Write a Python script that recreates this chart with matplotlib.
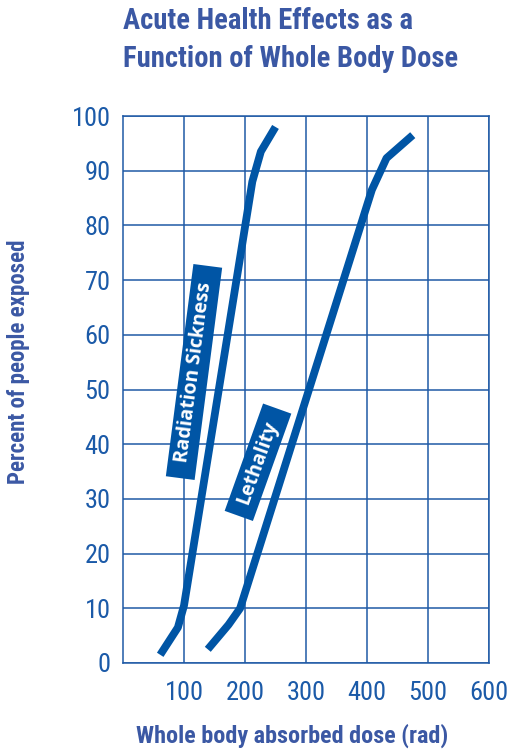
import matplotlib
matplotlib.use("Agg")
import matplotlib.pyplot as plt
from matplotlib import font_manager
from matplotlib.font_manager import FontProperties
from matplotlib.patches import Rectangle
from matplotlib.transforms import Affine2D, ScaledTranslation

# ---- data ----
sick_dose = [61, 90, 100, 212, 226, 250]
sick_pct = [1.5, 6.5, 10.5, 88, 93.5, 98]
leth_dose = [139, 173, 192, 408, 432, 475]
leth_pct = [2.5, 7, 10, 86.5, 92.3, 96.5]
x_ticks = [100, 200, 300, 400, 500, 600]
y_ticks = [0, 10, 20, 30, 40, 50, 60, 70, 80, 90, 100]
title_lines = ["Acute Health Effects as a", "Function of Whole Body Dose"]
x_label = "Whole body absorbed dose (rad)"
y_label = "Percent of people exposed"
sick_label = "Radiation Sickness"
leth_label = "Lethality"

names = {f.name for f in font_manager.fontManager.ttflist}
cands = ["Liberation Sans Narrow", "Roboto Condensed", "Open Sans Condensed", "Roboto"]
narrow = [c for c in cands if c in names][:1] + ["DejaVu Sans"]


def bold_file(families):
    for fam in families:
        for f in font_manager.fontManager.ttflist:
            w = f.weight if isinstance(f.weight, int) else 400
            fn = f.fname.lower()
            if (f.name == fam and f.style == "normal" and 650 <= w <= 750
                    and "italic" not in fn and "oblique" not in fn and "condensed" not in fn
                    and "variable" not in fn and "[" not in fn):
                return f.fname
    return None


box_font_file = bold_file(["Open Sans", "Noto Sans", "Lato", "DejaVu Sans"])

LINE = "#0055a5"
GRID = "#1f5aa6"
TXT = "#3b58a4"

fig = plt.figure(figsize=(5.14, 7.49), dpi=100)
ax = fig.add_axes([123 / 514, 86 / 749, 366 / 514, 547 / 749])
ax.set_xlim(0, 600)
ax.set_ylim(0, 100)
ax.set_xticks(x_ticks)
ax.set_yticks(y_ticks)
ax.grid(True, color=GRID, lw=1.1)
for s in ax.spines.values():
    s.set_color(GRID)
    s.set_linewidth(1.1)
ax.tick_params(length=0, colors="#1b5aa8", labelsize=19)
ax.tick_params(axis="y", pad=9)
ax.tick_params(axis="x", pad=13)
for lab in ax.get_xticklabels() + ax.get_yticklabels():
    lab.set_family(narrow)

ax.plot(sick_dose, sick_pct, color=LINE, lw=5.6, solid_capstyle="butt", solid_joinstyle="round", zorder=3)
ax.plot(leth_dose, leth_pct, color=LINE, lw=5.6, solid_capstyle="butt", solid_joinstyle="round", zorder=3)


def label_box(cx, cy, L, W, angle, text, size):
    tr = Affine2D().rotate_deg(angle) + ScaledTranslation(cx, cy, ax.transData)
    ax.add_patch(Rectangle((-L / 2, -W / 2), L, W, transform=tr, facecolor=LINE,
                           edgecolor="none", zorder=4, clip_on=False))
    if box_font_file:
        fp = FontProperties(fname=box_font_file, size=size)
    else:
        fp = FontProperties(family="DejaVu Sans", weight="bold", size=size)
    ax.text(cx, cy, text, rotation=angle, rotation_mode="anchor", ha="center", va="center",
            color="white", fontproperties=fp, zorder=5)


label_box(116.4, 53.2, 214, 29, 82.6, sick_label, 14)
label_box(221.3, 36.7, 114, 30, 70.3, leth_label, 14)

fig.text(123 / 514, 1 - 29 / 749, title_lines[0], ha="left", va="baseline", color=TXT,
         fontsize=20.6, fontweight="bold", family=narrow)
fig.text(123 / 514, 1 - 66.7 / 749, title_lines[1], ha="left", va="baseline", color=TXT,
         fontsize=20.6, fontweight="bold", family=narrow)
fig.text(292.5 / 514, 1 - 742.7 / 749, x_label, ha="center", va="baseline", color=TXT,
         fontsize=17.4, fontweight="bold", family=narrow)
fig.text(18.5 / 514, 1 - 361.5 / 749, y_label, ha="center", va="center", rotation=90, color=TXT,
         fontsize=16.5, fontweight="bold", family=narrow)

fig.savefig("out.png", dpi=100)
